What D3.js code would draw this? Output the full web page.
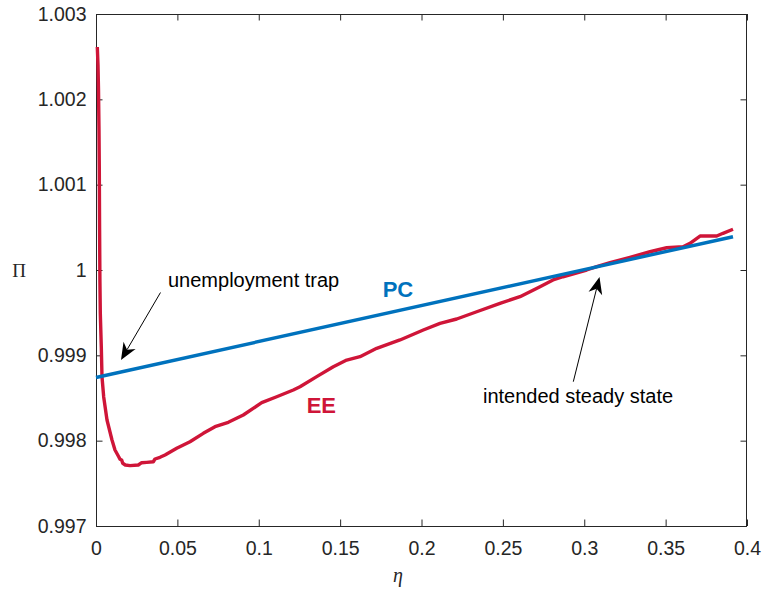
<!DOCTYPE html>
<html>
<head>
<meta charset="utf-8">
<script src="https://cdn.jsdelivr.net/npm/d3@7"></script>
<style>
body { margin: 0; background: #fff; }
text { font-family: "Liberation Sans", Arial, Helvetica, sans-serif; }
</style>
</head>
<body>
<svg id="mainSvg" width="762" height="590"></svg>
<script>
// EE curve (eta, Pi)
var eeEta = [0.0008, 0.00123, 0.00154, 0.00184, 0.00203, 0.00221, 0.0024, 0.00264, 0.00326, 0.00369,
	0.00473, 0.00676, 0.00983, 0.01167, 0.01395, 0.01475, 0.01579, 0.01641, 0.018, 0.02089,
	0.02599, 0.02808, 0.03115, 0.03521, 0.03625, 0.03932, 0.0424, 0.04959, 0.05776, 0.06593,
	0.07312, 0.08129, 0.09051, 0.10182, 0.11103, 0.12123, 0.12535, 0.13561, 0.14581, 0.15404,
	0.16221, 0.17247, 0.18679, 0.2011, 0.21137, 0.22163, 0.23392, 0.24823, 0.26052, 0.27281,
	0.2808, 0.28694, 0.3015, 0.30765, 0.31582, 0.32811, 0.3404, 0.35066, 0.36068, 0.36498,
	0.37113, 0.38139, 0.38526, 0.3914];
var eePi = [1.002613, 1.002402, 1.002109, 1.001641, 1.001172, 1.000469, 0.999883, 0.999496, 0.999098, 0.998746,
	0.998512, 0.998242, 0.998008, 0.997891, 0.997812, 0.997782, 0.997773, 0.997735, 0.997715, 0.997707,
	0.997715, 0.997742, 0.997746, 0.997753, 0.997785, 0.997805, 0.997832, 0.99791, 0.997988, 0.998086,
	0.998164, 0.998215, 0.998301, 0.998445, 0.998515, 0.998594, 0.998632, 0.99875, 0.998867, 0.998945,
	0.998984, 0.999082, 0.99918, 0.999297, 0.999375, 0.999426, 0.999511, 0.99961, 0.999687, 0.999804,
	0.999883, 0.999921, 1.0, 1.000039, 1.000086, 1.000149, 1.000214, 1.000261, 1.000273, 1.000313,
	1.000398, 1.000398, 1.00043, 1.000477];
// PC line
var pcEta = [0, 0.3914];
var pcPi = [0.99874, 1.00039];

var xTicks = [0, 0.05, 0.1, 0.15, 0.2, 0.25, 0.3, 0.35, 0.4];
var xTickLabels = ["0", "0.05", "0.1", "0.15", "0.2", "0.25", "0.3", "0.35", "0.4"];
var yTicks = [0.997, 0.998, 0.999, 1, 1.001, 1.002, 1.003];
var yTickLabels = ["0.997", "0.998", "0.999", "1", "1.001", "1.002", "1.003"];

// annotations: [text, textEta, textPi, tailEta, tailPi, tipEta, tipPi]
var notes = [
	["unemployment trap", 0.04424, 0.9998, 0.03963, 0.999736, 0.01536, 0.998945],
	["intended steady state", 0.23779, 0.998447, 0.29327, 0.998691, 0.30937, 0.999918]
];
var seriesLabels = [["PC", 0.17616, 0.99968], ["EE", 0.12946, 0.998328]];

var axisColor = "#262626", blue = "#0072bd", red = "#cf1538";
var map = {left: 96, top: 14, right: 747, bottom: 526};

var svg = d3.select("#mainSvg");
var x = d3.scaleLinear().domain([0, 0.4]).range([map.left, map.right]);
var y = d3.scaleLinear().domain([0.997, 1.003]).range([map.bottom, map.top]);

svg.append("rect").attr("width", 762).attr("height", 590).attr("fill", "#fff");

var fs = 19.5;
function styleAxis(g)
{
	g.select(".domain").remove();
	g.selectAll("line").attr("stroke", axisColor);
	g.selectAll("text").attr("fill", axisColor).style("font-size", fs + "px")
		.style("font-family", "'Liberation Sans', Arial, sans-serif");
}

svg.append("g").attr("transform", "translate(0," + map.bottom + ")")
	.call(d3.axisBottom(x).tickValues(xTicks).tickFormat(function(d, i) { return xTickLabels[i]; })
		.tickSizeInner(-6.5).tickSizeOuter(0).tickPadding(15.5))
	.call(styleAxis);
svg.append("g").attr("transform", "translate(" + map.left + ",0)")
	.call(d3.axisLeft(y).tickValues(yTicks).tickFormat(function(d, i) { return yTickLabels[i]; })
		.tickSizeInner(-6.5).tickSizeOuter(0).tickPadding(9.5))
	.call(styleAxis);
svg.append("g").attr("transform", "translate(0," + map.top + ")")
	.call(d3.axisTop(x).tickValues(xTicks).tickFormat("").tickSizeInner(-6.5).tickSizeOuter(0))
	.call(styleAxis);
svg.append("g").attr("transform", "translate(" + map.right + ",0)")
	.call(d3.axisRight(y).tickValues(yTicks).tickFormat("").tickSizeInner(-6.5).tickSizeOuter(0))
	.call(styleAxis);

svg.append("rect").attr("x", map.left + 0.5).attr("y", map.top + 0.5)
	.attr("width", map.right - map.left - 1).attr("height", map.bottom - map.top)
	.attr("fill", "none").attr("stroke", axisColor).attr("stroke-width", 1);

var line = d3.line().x(function(d) { return x(d[0]); }).y(function(d) { return y(d[1]); });

svg.append("path").datum(d3.zip(eeEta, eePi)).attr("d", line)
	.attr("fill", "none").attr("stroke", red).attr("stroke-width", 3.4).attr("stroke-linejoin", "round");
svg.append("path").datum(d3.zip(pcEta, pcPi)).attr("d", line)
	.attr("fill", "none").attr("stroke", blue).attr("stroke-width", 3.4);

// annotations with arrows
notes.forEach(function(n) {
	var x0 = x(n[3]), y0 = y(n[4]), x1 = x(n[5]), y1 = y(n[6]);
	var dx = x1 - x0, dy = y1 - y0, len = Math.sqrt(dx * dx + dy * dy);
	var ux = dx / len, uy = dy / len;
	var hl = 17, hw = 7;
	var bx = x1 - ux * hl, by = y1 - uy * hl;
	svg.append("line").attr("x1", x0).attr("y1", y0).attr("x2", bx + ux * 5).attr("y2", by + uy * 5)
		.attr("stroke", "#000").attr("stroke-width", 1);
	var pts = [[x1, y1], [bx - uy * hw, by + ux * hw], [bx + ux * 5, by + uy * 5], [bx + uy * hw, by - ux * hw]];
	svg.append("polygon").attr("points", pts.map(function(p) { return p.join(","); }).join(" "))
		.attr("fill", "#000");
	svg.append("text").attr("x", x(n[1])).attr("y", y(n[2])).text(n[0])
		.attr("fill", "#000").style("font-size", "20px");
});

svg.selectAll("text.series").data(seriesLabels).enter().append("text").attr("class", "series")
	.attr("x", function(d) { return x(d[1]); }).attr("y", function(d) { return y(d[2]); })
	.text(function(d) { return d[0]; })
	.attr("fill", function(d) { return d[0] == "PC" ? blue : red; })
	.style("font-size", "22px").style("font-weight", "bold");

// axis labels
svg.append("text").attr("x", 19).attr("y", 277).attr("text-anchor", "middle").text("\u03a0")
	.attr("fill", axisColor).style("font-family", "'Liberation Serif', 'Times New Roman', serif").style("font-size", "19px");
svg.append("text").attr("x", 398).attr("y", 582).attr("text-anchor", "middle").text("\u03b7")
	.attr("fill", axisColor).style("font-family", "'Liberation Serif', 'Times New Roman', serif")
	.style("font-style", "italic").style("font-size", "20px");
</script>
</body>
</html>
